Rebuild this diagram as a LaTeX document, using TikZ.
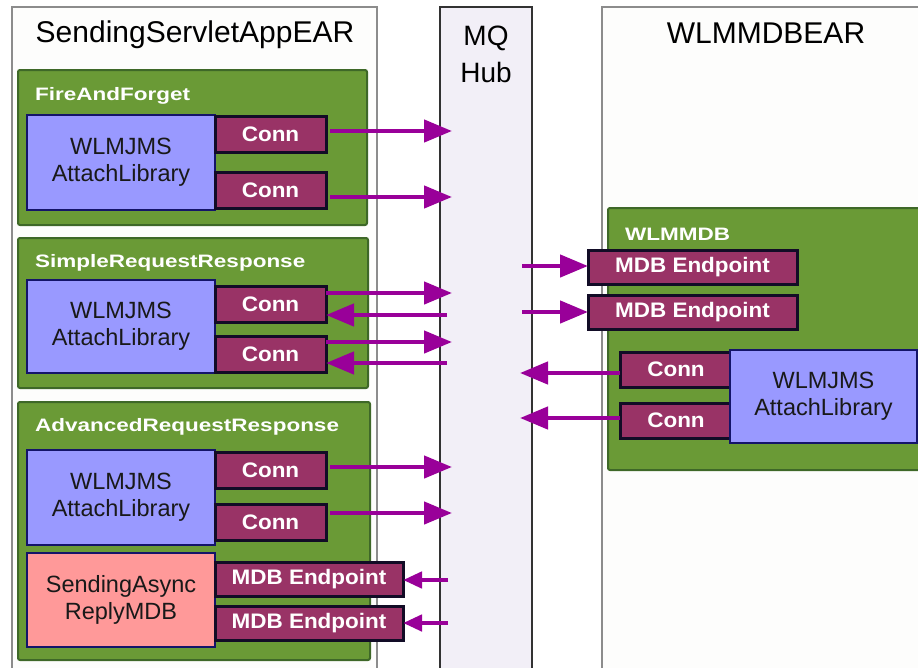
\documentclass[tikz,border=0pt]{standalone}
\usepackage{fontspec}
\setmainfont{Liberation Sans}
\newfontfamily\labfont[FakeStretch=1.25]{Liberation Sans}
\newfontfamily\connfont[FakeStretch=1.07]{Liberation Sans}
\usetikzlibrary{arrows.meta}
\definecolor{grfill}{RGB}{106,154,54}
\definecolor{grdraw}{RGB}{62,104,40}
\definecolor{blfill}{RGB}{153,153,255}
\definecolor{bldraw}{RGB}{20,20,105}
\definecolor{mrfill}{RGB}{153,51,102}
\definecolor{mrdraw}{RGB}{18,12,38}
\definecolor{rdfill}{RGB}{255,153,153}
\definecolor{arrcol}{RGB}{153,0,153}
\definecolor{mqfill}{RGB}{242,239,247}
\definecolor{mqdraw}{RGB}{50,50,50}
\definecolor{outdraw}{RGB}{140,140,140}
\definecolor{outfill}{RGB}{253,253,252}
\tikzset{
  box/.style={rectangle, inner sep=0pt, outer sep=0pt, anchor=north west},
  outerbox/.style={box, draw=outdraw, fill=outfill, line width=2pt},
  mqbox/.style={box, draw=mqdraw, fill=mqfill, line width=2pt},
  greenbox/.style={box, draw=grdraw, fill=grfill, line width=2pt, rounded corners=2pt},
  bluebox/.style={box, draw=bldraw, fill=blfill, line width=2.5pt, align=center,
    font=\fontsize{23.5}{27}\selectfont, text=black!90},
  redbox/.style={box, draw=bldraw, fill=rdfill, line width=2.5pt, align=center,
    font=\fontsize{23.5}{27}\selectfont, text=black!90},
  connbox/.style={box, draw=mrdraw, fill=mrfill, line width=3pt,
    font=\connfont\bfseries\fontsize{21}{24}\selectfont, text=white},
  greenlab/.style={anchor=base west, inner sep=0pt, text=white,
    font=\labfont\bfseries\fontsize{18}{20}\selectfont},
  title/.style={anchor=base, inner sep=0pt, font=\fontsize{30}{36}\selectfont, text=black},
  arr/.style={draw=arrcol, line width=4.5pt, -{Triangle[length=28pt,width=22pt]}},
  sarr/.style={draw=arrcol, line width=4.5pt, -{Triangle[length=19pt,width=16pt]}}
}
\begin{document}
\begin{tikzpicture}[x=1pt,y=-1pt]
\useasboundingbox[fill=white] (0,0) rectangle (918,667);

% outer containers
\node[outerbox, minimum width=365, minimum height=670] (ear1) at (12,7) {};
\node[mqbox, minimum width=92, minimum height=670] (mq) at (440,7) {};
\node[outerbox, minimum width=330, minimum height=670] (ear2) at (602,7) {};

\node[title] (t1) at (195,42) {SendingServletAppEAR};
\node[title, font=\fontsize{28}{37}\selectfont] (t2) at (486,45) {MQ};
\node[title, font=\fontsize{28}{37}\selectfont] (t3) at (486,82) {Hub};
\node[title] (t4) at (766,43) {WLMMDBEAR};

% FireAndForget
\node[greenbox, minimum width=349, minimum height=155] (ff) at (18,70) {};
\node[greenlab] (fflab) at (35,100) {FireAndForget};
\node[bluebox, minimum width=188, minimum height=95] (ffl) at (27,115) {WLMJMS\\AttachLibrary};
\node[connbox, minimum width=111, minimum height=36] (ffc1) at (215,116) {Conn};
\node[connbox, minimum width=111, minimum height=36] (ffc2) at (215,172) {Conn};

% SimpleRequestResponse
\node[greenbox, minimum width=350, minimum height=150] (sr) at (18,238) {};
\node[greenlab] (srlab) at (35,267) {SimpleRequestResponse};
\node[bluebox, minimum width=188, minimum height=93] (srl) at (27,280) {WLMJMS\\AttachLibrary};
\node[connbox, minimum width=111, minimum height=36] (src1) at (215,286) {Conn};
\node[connbox, minimum width=111, minimum height=36] (src2) at (215,336) {Conn};

% AdvancedRequestResponse
\node[greenbox, minimum width=352, minimum height=258] (ar) at (18,402) {};
\node[greenlab] (arlab) at (35,431) {AdvancedRequestResponse};
\node[bluebox, minimum width=188, minimum height=95] (arl) at (27,450) {WLMJMS\\AttachLibrary};
\node[connbox, minimum width=111, minimum height=36] (arc1) at (215,452) {Conn};
\node[connbox, minimum width=111, minimum height=36] (arc2) at (215,504) {Conn};
\node[redbox, minimum width=188, minimum height=94] (rm) at (27,553) {SendingAsync\\ReplyMDB};
\node[connbox, minimum width=188, minimum height=34] (are1) at (215,562) {MDB Endpoint};
\node[connbox, minimum width=188, minimum height=34] (are2) at (215,606) {MDB Endpoint};

% WLMMDB
\node[greenbox, minimum width=320, minimum height=262] (wm) at (608,208) {};
\node[greenlab] (wmlab) at (625,240) {WLMMDB};
\node[connbox, minimum width=209, minimum height=34] (wme1) at (588,250) {MDB Endpoint};
\node[connbox, minimum width=209, minimum height=34] (wme2) at (588,295) {MDB Endpoint};
\node[connbox, minimum width=112, minimum height=35] (wmc1) at (620,352) {Conn};
\node[connbox, minimum width=112, minimum height=35] (wmc2) at (620,403) {Conn};
\node[bluebox, minimum width=187, minimum height=93] (wml) at (730,350) {WLMJMS\\AttachLibrary};

% free ends inside the MQ hub
\coordinate (h1) at (452,131);
\coordinate (h2) at (452,197);
\coordinate (h3) at (452,293);
\coordinate (h4) at (447,315);
\coordinate (h5) at (452,342);
\coordinate (h6) at (447,363);
\coordinate (h7) at (452,467);
\coordinate (h8) at (452,513);
\coordinate (h9) at (448,580);
\coordinate (h10) at (448,623);
\coordinate (h11) at (522,266);
\coordinate (h12) at (522,312);
\coordinate (h13) at (520,373);
\coordinate (h14) at (520,418);

% connectors
\draw[arr, shorten <=4pt] (h1 -| ffc1.east) -- (h1);
\draw[arr, shorten <=4pt] (h2 -| ffc2.east) -- (h2);
\draw[arr] (h3 -| src1.east) -- (h3);
\draw[arr] (h4) -- (h4 -| src1.east);
\draw[arr] (h5 -| src2.east) -- (h5);
\draw[arr] (h6) -- (h6 -| src2.east);
\draw[arr, shorten <=4pt] (h7 -| arc1.east) -- (h7);
\draw[arr, shorten <=4pt] (h8 -| arc2.east) -- (h8);
\draw[sarr] (h9) -- (h9 -| are1.east);
\draw[sarr] (h10) -- (h10 -| are2.east);
\draw[arr] (h11) -- (h11 -| wme1.west);
\draw[arr] (h12) -- (h12 -| wme2.west);
\draw[arr] (h13 -| wmc1.west) -- (h13);
\draw[arr] (h14 -| wmc2.west) -- (h14);
\end{tikzpicture}
\end{document}
